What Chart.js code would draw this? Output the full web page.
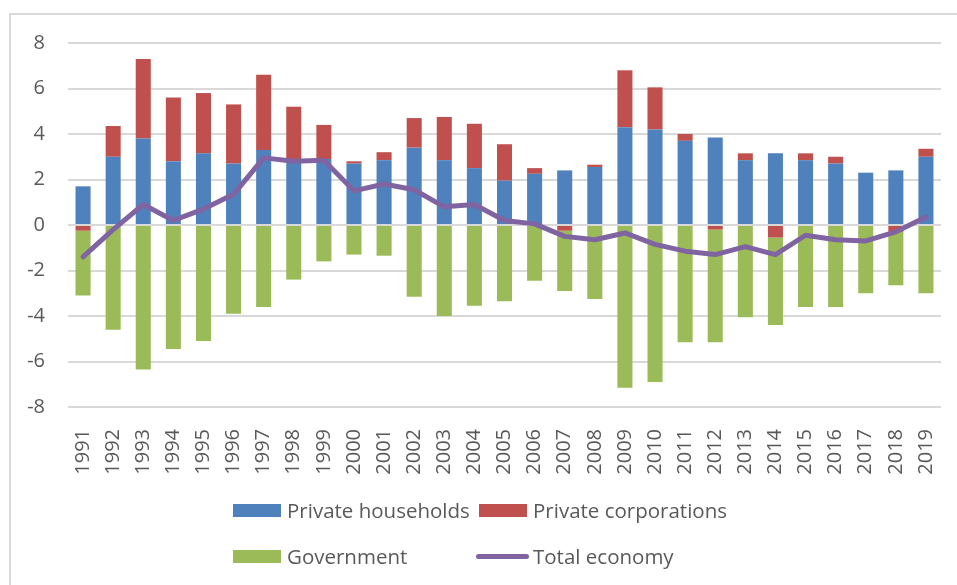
<!DOCTYPE html>
<html>
<head>
<meta charset="utf-8">
<script src="https://cdn.jsdelivr.net/npm/chart.js@4"></script>
<style>
  body { margin: 0; background: #fff; }
  #wrap { position: relative; width: 957px; height: 585px; overflow: hidden; }
  #frame { position: absolute; left: 9px; top: 13px; width: 1000px; height: 700px;
           border-top: 2px solid #d9d9d9; border-left: 2px solid #d9d9d9; }
  .leg { position: absolute; font-family: "Open Sans", sans-serif; font-size: 20.5px; color: #595959;
         display: flex; align-items: center; white-space: nowrap; height: 30px; }
  .leg i { display: inline-block; width: 48px; height: 13px; margin-right: 6px; }
  .leg i.ln { height: 5px; border-radius: 3px; margin-left: -3px; margin-right: 4px; width: 53px; }
</style>
</head>
<body>
<div id="wrap">
  <div id="frame"></div>
  <canvas id="myChart"></canvas>
</div>
<script>
const years = ["1991","1992","1993","1994","1995","1996","1997","1998","1999","2000",
  "2001","2002","2003","2004","2005","2006","2007","2008","2009","2010",
  "2011","2012","2013","2014","2015","2016","2017","2018","2019"];

const households = [1.7, 3.0, 3.8, 2.8, 3.15, 2.7, 3.3, 2.9, 2.9, 2.7,
  2.85, 3.4, 2.85, 2.5, 1.95, 2.25, 2.4, 2.55, 4.3, 4.2,
  3.7, 3.85, 2.85, 3.15, 2.85, 2.7, 2.3, 2.4, 3.0];

const corporations = [-0.25, 1.35, 3.5, 2.8, 2.65, 2.6, 3.3, 2.3, 1.5, 0.1,
  0.35, 1.3, 1.9, 1.95, 1.6, 0.25, -0.25, 0.1, 2.5, 1.85,
  0.3, -0.2, 0.3, -0.55, 0.3, 0.3, 0, -0.3, 0.35];

const government = [-2.85, -4.6, -6.35, -5.45, -5.1, -3.9, -3.6, -2.4, -1.6, -1.3,
  -1.35, -3.15, -4.0, -3.55, -3.35, -2.45, -2.65, -3.25, -7.15, -6.9,
  -5.15, -4.95, -4.05, -3.85, -3.6, -3.6, -3.0, -2.35, -3.0];

const total = [-1.4, -0.2, 0.9, 0.2, 0.7, 1.35, 2.95, 2.8, 2.85, 1.5,
  1.8, 1.55, 0.8, 0.9, 0.2, 0.05, -0.5, -0.65, -0.35, -0.85,
  -1.15, -1.3, -0.95, -1.3, -0.45, -0.65, -0.7, -0.3, 0.35];

const yTicks = [-8, -6, -4, -2, 0, 2, 4, 6, 8];

const seriesNames = ["Private households", "Private corporations", "Government", "Total economy"];
const colors = ["#4f81bd", "#c0504d", "#9bbb59", "#8064a2"];

const ctx = document.getElementById("myChart");
new Chart(ctx, {
  data: {
    labels: years,
    datasets: [
      {
        type: "line",
        label: seriesNames[3],
        data: total,
        stack: "line",
        borderColor: colors[3],
        borderWidth: 5,
        pointRadius: 0,
        borderJoinStyle: "round",
        borderCapStyle: "round",
        order: 0
      },
      { type: "bar", label: seriesNames[0], data: households, backgroundColor: colors[0], stack: "bars", order: 1 },
      { type: "bar", label: seriesNames[1], data: corporations, backgroundColor: colors[1], stack: "bars", order: 1 },
      { type: "bar", label: seriesNames[2], data: government, backgroundColor: colors[2], stack: "bars", order: 1 }
    ]
  },
  options: {
    responsive: true,
    maintainAspectRatio: false,
    animation: false,
    layout: { padding: { top: 43, right: 16, bottom: 98, left: 0 } },
    datasets: { bar: { categoryPercentage: 1, barPercentage: 0.5 } },
    plugins: { legend: { display: false }, tooltip: { enabled: false } },
    scales: {
      x: {
        stacked: true,
        grid: { display: false },
        border: { display: false },
        afterFit: (s) => { s.height = 80; s.paddingLeft = 0; s.paddingRight = 0; },
        ticks: {
          autoSkip: false, minRotation: 90, maxRotation: 90, padding: 14,
          color: "#595959", font: { family: "Open Sans", size: 20 }
        }
      },
      y: {
        stacked: true,
        min: -8, max: 8,
        afterFit: (s) => { s.width = 68; },
        afterBuildTicks: (s) => { s.ticks = yTicks.map(v => ({ value: v })); },
        grid: { color: "#d9d9d9", lineWidth: 2, drawTicks: false },
        border: { display: false },
        ticks: { padding: 23, color: "#595959", font: { family: "Open Sans", size: 20 } }
      }
    }
  }
});

// legend laid out like the spreadsheet's two-column legend
const legPos = [[233, 495], [479, 495], [233, 541], [479, 541]];
const wrap = document.getElementById("wrap");
seriesNames.forEach((name, i) => {
  const d = document.createElement("div");
  d.className = "leg";
  d.style.left = legPos[i][0] + "px";
  d.style.top = legPos[i][1] + "px";
  const sw = document.createElement("i");
  if (i == 3) sw.className = "ln";
  sw.style.background = colors[i];
  d.appendChild(sw);
  d.appendChild(document.createTextNode(name));
  wrap.appendChild(d);
});
</script>
</body>
</html>
